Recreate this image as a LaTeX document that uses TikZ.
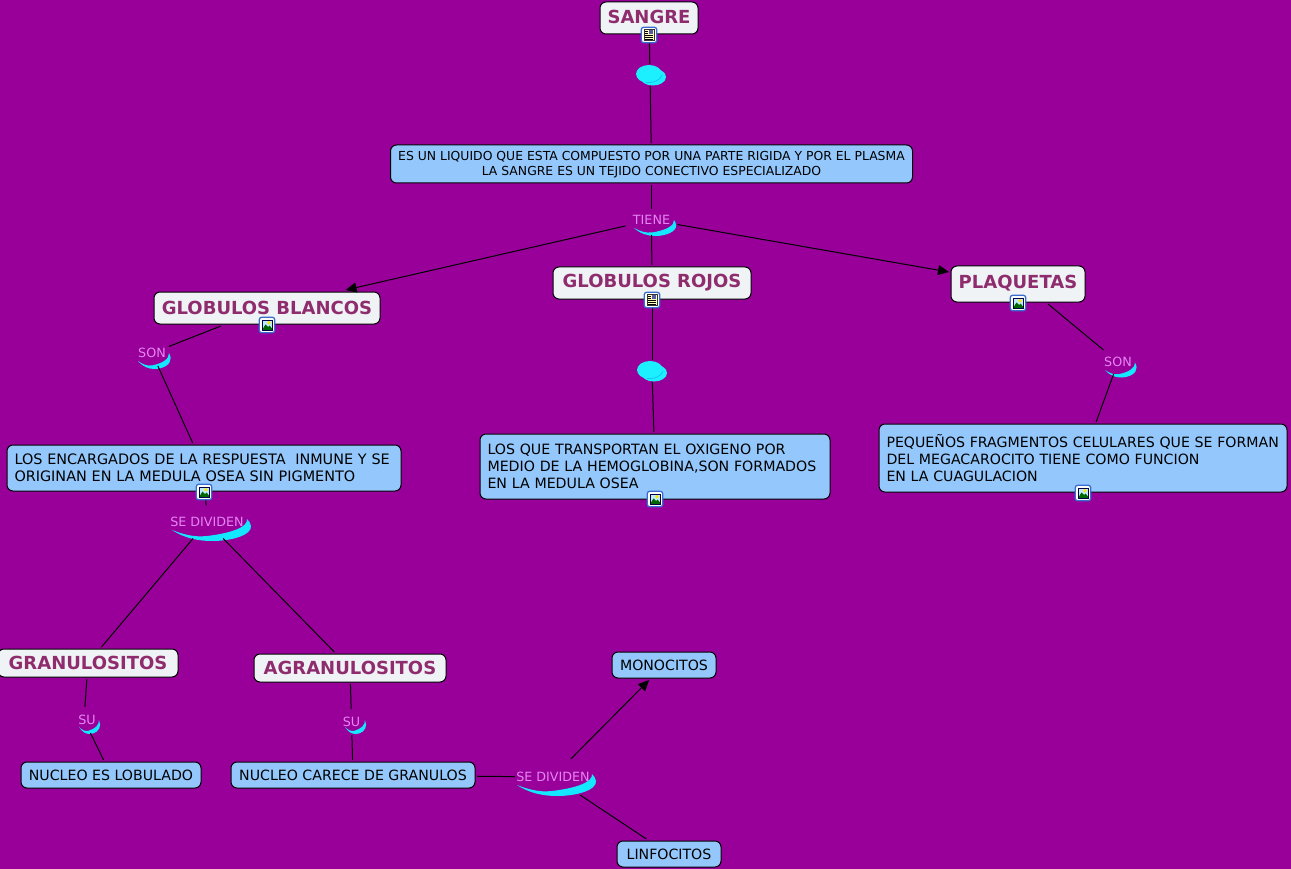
\documentclass[tikz,border=0pt]{standalone}
\usepackage{fontspec}
\setmainfont{DejaVu Sans}
\usetikzlibrary{arrows.meta,shapes.geometric}
\definecolor{bgp}{HTML}{990099}
\definecolor{boxb}{HTML}{94C8FC}
\definecolor{boxl}{HTML}{EFF3F5}
\definecolor{titlec}{HTML}{8F2C6E}
\definecolor{labc}{HTML}{E486F2}
\definecolor{cres}{HTML}{14E8FF}
\definecolor{blob}{HTML}{1CF0FF}
\definecolor{iconb}{HTML}{3A6CD0}
\tikzset{
  x=1pt,y=-1pt,
  basebox/.style={draw=black,line width=1pt,rounded corners=6pt,inner sep=0pt,outer sep=2pt},
  titlebox/.style={basebox,fill=boxl,text=titlec,font=\fontsize{18}{20}\selectfont\bfseries},
  bluebox/.style={basebox,fill=boxb,text=black,font=\fontsize{14.15}{17}\selectfont},
  blocktext/.style={bluebox,align=left,inner xsep=7.5pt},
  linklabel/.style={text=labc,font=\fontsize{12.7}{14}\selectfont,inner sep=0pt,outer sep=0pt},
  blobnode/.style={ellipse,inner sep=0pt,outer sep=0pt,minimum width=30pt,minimum height=22pt},
  conn/.style={draw=black,line width=1pt},
  arr/.style={conn,-{Triangle[length=11pt,width=10pt]}},
  iconbox/.style={draw=iconb,fill=white,line width=1.3pt,rounded corners=2.5pt,minimum size=15.5pt,inner sep=0pt,outer sep=1pt}
}
\newcommand\crescent[4]{% left-tip x, y, width, height
  \begin{scope}[shift={(#1,#2)},xscale=#3/75,yscale=#4/22]
    \fill[cres] (0,0) .. controls (12,8) and (26,11) .. (40,11) .. controls (60,11) and (80,5) .. (79,-4)
      .. controls (78.5,-7) and (77,-9) .. (75,-11) .. controls (76,-3) and (60,3) .. (35,6)
      .. controls (22,7.5) and (10,4) .. (0,0) -- cycle;
  \end{scope}}
\newcommand\blobs[2]{%
  \begin{scope}[shift={(#1,#2)}]
    \fill[blob] (4,3) ellipse [x radius=13,y radius=8.5];
    \fill[blob] (0,0) ellipse [x radius=13,y radius=9];
    \draw[cres!75!blue,line width=.5pt] (-3,8.6) .. controls (4,9.5) and (12,6) .. (13,1);
  \end{scope}}
\newcommand\photoart{%
  \fill[cyan!25] (-5,-5) rectangle (5,5);
  \fill[yellow!90!orange] (2,-2.3) circle (1.9);
  \fill[green!40!black] (-5,5) -- (-1.5,-.5) -- (1,2) -- (2.5,.5) -- (5,3.5) -- (5,5) -- cycle;
  \draw[black!70!blue,line width=.5pt] (-5,-5) rectangle (5,5);}
\newcommand\photoicon[3]{%
  \node[iconbox] (#1) at (#2,#3) {};
  \begin{scope}[shift={(#2,#3)}]\photoart\end{scope}}
\newcommand\docicon[3]{%
  \node[iconbox] (#1) at (#2,#3) {};
  \begin{scope}[shift={(#2,#3)}]
    \fill[yellow!25] (-5,-5.5) rectangle (5,5.5);
    \draw[black!80,line width=.5pt] (-5,-5.5) rectangle (5,5.5);
    \fill[gray!70!blue] (0,-4.7) rectangle (4.2,-.7);
    \draw[black,line width=.6pt] (-3.8,-3.7) -- (-1,-3.7) (-3.8,-1.8) -- (-1,-1.8) (-3.8,.3) -- (3.8,.3) (-3.8,2.2) -- (3.8,2.2) (-3.8,4) -- (3.8,4);
  \end{scope}}
\begin{document}
\begin{tikzpicture}
\useasboundingbox (0,0) rectangle (1291,869);
\fill[bgp] (0,0) rectangle (1291,869);

% boxes
\node[titlebox,minimum width=98pt,minimum height=32pt] (sangre) at (649,18) {\raisebox{2pt}{SANGRE}};
\node[bluebox,font=\fontsize{12.4}{15}\selectfont,align=center,minimum width=522pt,minimum height=38pt] (liquido) at (651.5,164)
  {\rule{0pt}{11pt}ES UN LIQUIDO QUE ESTA COMPUESTO POR UNA PARTE RIGIDA Y POR EL PLASMA\\LA SANGRE ES UN TEJIDO CONECTIVO ESPECIALIZADO\rule[-1pt]{0pt}{1pt}};
\node[titlebox,minimum width=226pt,minimum height=32pt] (gb) at (267,308) {\raisebox{1pt}{GLOBULOS BLANCOS}};
\node[titlebox,minimum width=198pt,minimum height=32pt] (gr) at (652,283) {GLOBULOS ROJOS};
\node[titlebox,minimum width=134pt,minimum height=36pt] (plaq) at (1018,284) {\raisebox{4pt}{PLAQUETAS}};
\node[blocktext,font=\fontsize{14.4}{17}\selectfont,text width=379pt,minimum height=46pt] (encargados) at (204,468)
  {\raisebox{1.5pt}{LOS ENCARGADOS DE LA RESPUESTA\ \ INMUNE Y SE}\\\raisebox{1.5pt}{ORIGINAN EN LA MEDULA OSEA SIN PIGMENTO}};
\node[blocktext,font=\fontsize{14.2}{17}\selectfont,text width=335pt,minimum height=65pt] (transportan) at (655,466.5)
  {\raisebox{1.5pt}{LOS QUE TRANSPORTAN EL OXIGENO POR}\\\raisebox{1.5pt}{MEDIO DE LA HEMOGLOBINA,SON FORMADOS}\\\raisebox{1.5pt}{EN LA MEDULA OSEA}};
\node[blocktext,text width=393pt,minimum height=68pt] (fragmentos) at (1083,458)
  {\raisebox{1pt}{PEQUEÑOS FRAGMENTOS CELULARES QUE SE FORMAN}\\\raisebox{1pt}{DEL MEGACAROCITO TIENE COMO FUNCION}\\\raisebox{1pt}{EN LA CUAGULACION}};
\node[titlebox,minimum width=180pt,minimum height=28pt] (gran) at (88,663) {GRANULOSITOS};
\node[titlebox,minimum width=192pt,minimum height=28pt] (agran) at (350,668) {AGRANULOSITOS};
\node[bluebox,minimum width=104pt,minimum height=26pt] (mono) at (664,665) {\raisebox{-.7pt}{MONOCITOS}};
\node[bluebox,minimum width=180pt,minimum height=26pt] (lobulado) at (111,775) {NUCLEO ES LOBULADO};
\node[bluebox,minimum width=244pt,minimum height=26pt] (carece) at (353,775) {NUCLEO CARECE DE GRANULOS};
\node[bluebox,minimum width=104pt,minimum height=26pt] (linf) at (669,854) {LINFOCITOS};

% crescents under the link labels
\crescent{634}{228}{40}{16}
\crescent{138}{361}{31}{16}
\crescent{1105}{370}{30}{15}
\crescent{172}{530}{75}{22}
\crescent{517}{785}{75}{22}
\crescent{79}{727}{20}{14}
\crescent{345}{727}{20}{14}

% link labels
\node[linklabel,minimum width=52pt,minimum height=30pt] (tiene) at (651.5,220) {TIENE};
\node[linklabel,minimum width=34pt,minimum height=26pt] (songb) at (152,353) {\raisebox{-1pt}{SON}};
\node[linklabel,minimum width=34pt,minimum height=24pt] (sonpl) at (1118,362) {SON};
\node[linklabel,minimum width=76pt,minimum height=33pt] (div1) at (207,522) {SE DIVIDEN};
\node[linklabel,minimum width=76pt,minimum height=36pt] (div2) at (553,777) {SE DIVIDEN};
\node[linklabel,minimum width=22pt,minimum height=26pt] (su1) at (84,720) {\hspace*{6pt}SU};
\node[linklabel,minimum width=22pt,minimum height=26pt] (su2) at (351.5,722) {SU};

% blob link markers
\blobs{649}{74}
\blobs{650}{370}
\node[blobnode] (blob1) at (650,75) {};
\node[blobnode] (blob2) at (652,371) {};

% connectors
\draw[conn] (sangre) -- (blob1);
\draw[conn] (blob1) -- (liquido);
\draw[conn,shorten >=-4pt] (liquido) -- (tiene);
\draw[arr] (tiene) -- (gb);
\draw[conn] (tiene) -- (gr);
\draw[arr] (tiene) -- (plaq);
\draw[conn] (gb) -- (songb);
\draw[conn] (songb) -- (encargados);
\draw[conn] (encargados) -- (div1);
\draw[conn] (div1) -- (gran);
\draw[conn] (div1) -- (agran);
\draw[conn] (gran) -- (su1);
\draw[conn] (su1) -- (lobulado);
\draw[conn] (agran) -- (su2);
\draw[conn] (su2) -- (carece);
\draw[conn] (carece) -- (div2);
\draw[arr] (div2) -- (mono);
\draw[conn] (div2) -- (linf);
\draw[conn] (gr) -- (blob2);
\draw[conn] (blob2) -- (transportan);
\draw[conn] ([xshift=-39pt]plaq.south east) -- (sonpl);
\draw[conn] (sonpl) -- (fragmentos);

% resource icons
\docicon{isangre}{649}{35}
\docicon{igr}{652}{300}
\photoicon{igb}{267}{325}
\photoicon{iplaq}{1018}{303}
\photoicon{ienc}{204}{492}
\photoicon{itrans}{655}{499}
\photoicon{ifrag}{1083}{493}
\end{tikzpicture}
\end{document}
